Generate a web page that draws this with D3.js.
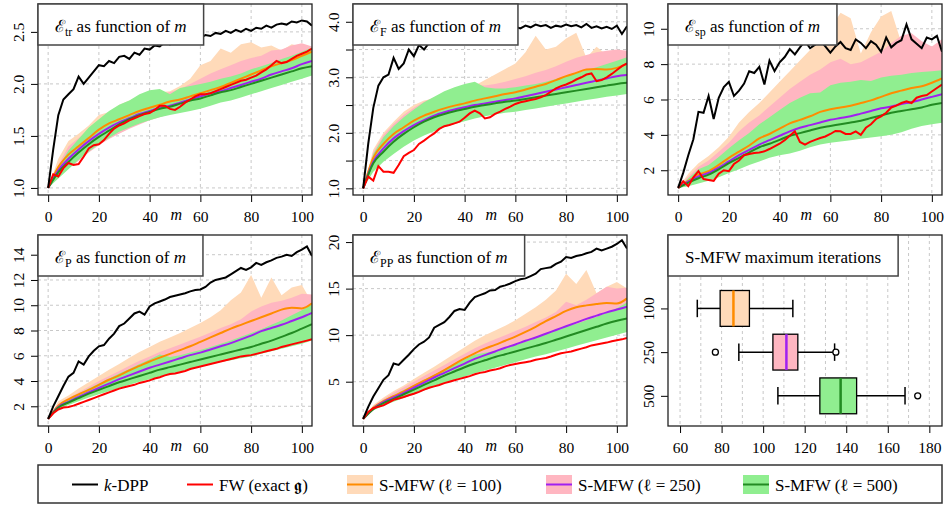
<!DOCTYPE html>
<html>
<head>
<meta charset="utf-8">
<script src="https://cdn.jsdelivr.net/npm/d3@7"></script>
<style>
  body { margin: 0; background: #fff; }
  svg text { font-family: "Liberation Serif", "DejaVu Serif", serif; }
</style>
</head>
<body>
<div id="chart"></div>
<script>
// x grids (m values)
const mFine = [0,2,4,6,8,10,12,14,16,18,20,22,24,26,28,30,32,34,36,38,40,42,44,46,48,50,52,54,56,58,60,62,64,66,68,70,72,74,76,78,80,82,84,86,88,90,92,94,96,98,100,102,104];
const mCoarse = [0,4,8,12,16,20,24,28,32,36,40,44,48,52,56,60,64,68,72,76,80,84,88,92,96,100,104];
const xTicks = [0, 20, 40, 60, 80, 100];

// ---- E_tr ----
const trDPP = [1.00,1.37,1.70,1.85,1.90,1.95,2.07,2.00,2.06,2.12,2.18,2.17,2.22,2.20,2.26,2.27,2.24,2.30,2.28,2.34,2.33,2.37,2.36,2.40,2.38,2.42,2.41,2.43,2.42,2.45,2.44,2.47,2.46,2.49,2.48,2.51,2.49,2.52,2.50,2.53,2.51,2.54,2.53,2.56,2.54,2.57,2.58,2.57,2.60,2.59,2.61,2.60,2.56];
const trFW = [1.00,1.13,1.11,1.19,1.24,1.22,1.23,1.30,1.38,1.41,1.42,1.46,1.52,1.57,1.60,1.62,1.65,1.67,1.69,1.71,1.72,1.75,1.79,1.79,1.76,1.75,1.78,1.82,1.85,1.88,1.90,1.90,1.91,1.93,1.95,1.97,1.99,2.01,2.03,2.04,2.06,2.08,2.11,2.14,2.18,2.22,2.20,2.21,2.24,2.27,2.29,2.31,2.34];
const trMFW100 = [1.00,1.20,1.32,1.40,1.48,1.56,1.62,1.66,1.70,1.74,1.77,1.80,1.83,1.85,1.88,1.91,1.94,1.97,2.01,2.05,2.09,2.13,2.17,2.20,2.23,2.27,2.31];
const trMFW250 = [1.00,1.17,1.28,1.37,1.45,1.52,1.58,1.63,1.67,1.71,1.74,1.77,1.79,1.82,1.85,1.88,1.91,1.93,1.96,1.99,2.02,2.05,2.09,2.12,2.15,2.19,2.22];
const trMFW500 = [1.00,1.15,1.25,1.34,1.42,1.49,1.55,1.61,1.66,1.70,1.73,1.76,1.78,1.81,1.84,1.86,1.89,1.92,1.94,1.97,2.00,2.03,2.06,2.09,2.12,2.15,2.17];
const trHi100 = [1.00,1.28,1.45,1.52,1.60,1.70,1.73,1.80,1.84,1.88,1.90,1.92,1.93,1.98,2.05,2.18,2.22,2.34,2.30,2.38,2.40,2.35,2.37,2.32,2.38,2.36,2.35];
const trLo100 = [1.00,1.12,1.22,1.30,1.38,1.45,1.51,1.56,1.61,1.65,1.68,1.71,1.74,1.76,1.79,1.81,1.84,1.87,1.90,1.93,1.96,1.99,2.02,2.05,2.08,2.12,2.15];
const trHi250 = [1.00,1.22,1.40,1.48,1.56,1.64,1.70,1.76,1.80,1.85,1.88,1.90,1.92,1.95,2.00,2.05,2.10,2.14,2.18,2.22,2.25,2.27,2.32,2.33,2.37,2.39,2.36];
const trLo250 = [1.00,1.10,1.19,1.26,1.34,1.41,1.47,1.52,1.57,1.61,1.65,1.68,1.71,1.74,1.77,1.79,1.82,1.85,1.88,1.91,1.94,1.97,2.00,2.03,2.06,2.09,2.12];
const trHi500 = [1.00,1.20,1.36,1.47,1.58,1.66,1.74,1.80,1.84,1.90,1.94,1.95,1.90,1.96,1.98,2.00,2.02,2.05,2.07,2.10,2.14,2.17,2.20,2.24,2.27,2.31,2.35];
const trLo500 = [1.00,1.09,1.18,1.27,1.35,1.42,1.48,1.54,1.58,1.62,1.65,1.68,1.70,1.72,1.74,1.76,1.79,1.82,1.84,1.87,1.90,1.93,1.96,1.99,2.02,2.05,2.08];

// ---- E_F ----
const fDPP = [1.00,1.80,2.45,2.85,3.00,3.05,3.35,3.15,3.25,3.50,3.38,3.58,3.50,3.62,3.66,3.70,3.73,3.76,3.78,3.80,3.82,3.84,3.85,3.86,3.87,3.88,3.88,3.89,3.87,3.86,3.91,3.88,3.93,3.90,3.95,3.92,3.94,3.89,3.93,3.91,3.95,3.92,3.94,3.90,3.96,3.89,3.92,3.88,3.91,3.87,3.93,3.78,3.92];
const fFW = [1.00,1.21,1.14,1.40,1.30,1.30,1.28,1.42,1.58,1.64,1.69,1.80,1.86,1.93,1.99,2.07,2.12,2.14,2.17,2.20,2.27,2.35,2.40,2.35,2.26,2.28,2.34,2.38,2.43,2.47,2.52,2.55,2.57,2.59,2.61,2.64,2.68,2.74,2.80,2.84,2.87,2.91,2.96,3.00,3.05,3.07,2.93,2.95,3.00,3.06,3.13,3.20,3.25];
const fMFW100 = [1.00,1.55,1.80,1.98,2.10,2.22,2.31,2.38,2.44,2.49,2.53,2.58,2.62,2.66,2.70,2.73,2.78,2.83,2.88,2.95,3.02,3.08,3.14,3.15,3.14,3.17,3.24];
const fMFW250 = [1.00,1.48,1.72,1.90,2.03,2.14,2.23,2.31,2.37,2.42,2.46,2.50,2.53,2.56,2.59,2.62,2.66,2.70,2.74,2.78,2.82,2.86,2.90,2.94,2.98,3.02,3.04];
const fMFW500 = [1.00,1.45,1.66,1.84,1.98,2.10,2.20,2.28,2.34,2.39,2.43,2.47,2.50,2.53,2.56,2.58,2.61,2.64,2.67,2.70,2.73,2.76,2.79,2.82,2.85,2.88,2.90];
const fHi100 = [1.00,1.70,2.00,2.20,2.38,2.50,2.58,2.62,2.70,2.75,2.80,2.85,2.95,3.05,3.15,3.25,3.45,3.75,3.50,3.55,3.70,3.80,3.35,3.55,3.40,3.35,3.32];
const fLo100 = [1.00,1.38,1.58,1.74,1.87,1.98,2.07,2.15,2.22,2.28,2.33,2.38,2.42,2.45,2.48,2.51,2.54,2.57,2.60,2.64,2.68,2.72,2.76,2.80,2.84,2.88,2.92];
const fHi250 = [1.00,1.65,1.96,2.16,2.32,2.45,2.56,2.64,2.72,2.78,2.83,2.87,2.85,2.88,2.92,2.97,3.02,3.08,3.13,3.20,3.28,3.35,3.40,3.45,3.48,3.50,3.48];
const fLo250 = [1.00,1.33,1.52,1.67,1.80,1.91,2.00,2.08,2.15,2.21,2.26,2.31,2.35,2.38,2.41,2.44,2.47,2.50,2.53,2.57,2.60,2.64,2.67,2.71,2.74,2.77,2.80];
const fHi500 = [1.00,1.62,1.92,2.12,2.28,2.42,2.55,2.65,2.75,2.82,2.88,2.92,2.82,2.80,2.80,2.82,2.85,2.88,2.92,2.97,3.02,3.07,3.13,3.18,3.24,3.30,3.36];
const fLo500 = [1.00,1.30,1.48,1.62,1.75,1.86,1.95,2.03,2.10,2.16,2.21,2.26,2.30,2.33,2.36,2.38,2.41,2.44,2.47,2.50,2.53,2.56,2.59,2.62,2.65,2.67,2.70];

// ---- E_sp ----
const spDPP = [1.00,1.85,2.85,3.75,5.30,5.25,6.20,4.90,6.10,6.70,7.00,6.20,6.50,6.90,7.60,7.50,7.85,6.85,8.20,7.60,8.10,8.40,8.85,8.55,8.95,9.30,8.90,9.10,9.35,9.00,8.65,9.00,9.25,8.90,8.80,9.40,9.20,8.90,9.30,9.10,8.70,9.50,8.95,9.20,9.35,10.25,9.40,9.15,8.90,9.50,9.40,9.60,8.70];
const spFW = [1.00,1.38,1.10,1.60,1.95,1.50,1.45,1.40,1.80,2.00,1.95,2.35,2.55,2.85,2.92,2.97,3.00,3.07,3.20,3.35,3.50,3.70,3.95,4.20,3.60,3.45,3.60,3.72,3.82,3.91,4.05,4.22,4.20,4.05,4.05,4.20,4.00,4.40,4.60,4.90,5.05,5.25,5.55,5.65,5.80,5.90,5.80,6.10,6.20,6.25,6.45,6.65,6.85];
const spMFW100 = [1.00,1.40,1.75,1.95,2.30,2.70,3.05,3.40,3.80,4.05,4.35,4.65,4.85,5.05,5.30,5.45,5.55,5.65,5.80,5.95,6.15,6.35,6.50,6.65,6.75,6.95,7.20];
const spMFW250 = [1.00,1.35,1.65,1.85,2.15,2.50,2.85,3.15,3.45,3.70,3.95,4.20,4.40,4.55,4.70,4.85,4.95,5.05,5.20,5.35,5.50,5.60,5.75,5.85,6.00,6.15,6.30];
const spMFW500 = [1.00,1.30,1.55,1.75,2.05,2.40,2.70,3.00,3.30,3.50,3.72,3.95,4.10,4.25,4.40,4.50,4.60,4.70,4.80,4.95,5.10,5.25,5.35,5.45,5.55,5.70,5.80];
const spHi100 = [1.00,1.80,2.40,2.80,3.30,3.90,4.70,5.30,5.80,6.40,7.00,7.60,8.20,8.80,9.40,10.00,10.90,10.60,8.60,9.80,10.70,11.00,9.20,8.90,8.70,8.80,8.70];
const spLo100 = [1.00,1.15,1.35,1.50,1.75,2.00,2.25,2.50,2.75,2.95,3.10,3.25,3.40,3.55,3.70,3.85,3.95,4.05,4.15,4.25,4.35,4.45,4.60,4.75,4.90,5.05,5.15];
const spHi250 = [1.00,1.65,2.20,2.55,3.05,3.55,4.20,4.70,5.10,5.60,6.10,6.60,7.00,7.40,7.70,8.10,8.30,8.00,8.10,8.40,8.70,9.20,9.60,9.75,9.30,9.00,9.40];
const spLo250 = [1.00,1.12,1.30,1.45,1.68,1.92,2.15,2.40,2.62,2.82,2.98,3.10,3.25,3.42,3.55,3.68,3.76,3.85,3.93,4.02,4.10,4.20,4.35,4.50,4.65,4.75,4.85];
const spHi500 = [1.00,1.55,2.05,2.30,2.75,3.25,3.70,4.10,4.60,5.00,5.40,5.80,6.10,6.35,6.40,6.80,6.95,7.00,7.10,7.05,7.25,7.35,7.40,7.50,7.55,7.60,7.65];
const spLo500 = [1.00,1.10,1.25,1.40,1.60,1.85,2.05,2.30,2.50,2.70,2.85,2.95,3.10,3.30,3.45,3.55,3.62,3.70,3.78,3.85,3.92,4.00,4.15,4.35,4.50,4.60,4.68];

// ---- E_P ----
const pDPP = [1.00,2.00,2.80,3.60,4.35,4.65,5.55,5.30,5.95,6.40,6.75,6.85,7.35,7.75,8.35,8.55,8.95,9.35,9.50,9.25,9.90,10.15,10.30,10.45,10.65,10.75,10.85,10.95,11.10,11.20,11.25,11.45,11.80,12.00,12.10,12.20,12.45,12.70,12.95,12.80,13.00,13.35,13.20,13.40,13.55,13.75,13.85,14.00,13.90,14.20,14.40,14.65,13.90];
const pFW = [1.00,1.45,1.75,1.90,1.95,2.05,2.20,2.35,2.50,2.65,2.80,2.95,3.10,3.25,3.40,3.50,3.60,3.70,3.85,3.95,4.05,4.20,4.30,4.45,4.55,4.60,4.70,4.80,4.95,5.05,5.15,5.25,5.35,5.45,5.55,5.65,5.75,5.85,5.95,6.00,6.05,6.15,6.25,6.35,6.45,6.55,6.70,6.80,6.90,7.00,7.10,7.20,7.30];
const pMFW100 = [1.00,2.05,2.55,2.95,3.30,3.70,4.10,4.45,4.85,5.20,5.55,5.85,6.15,6.45,6.75,7.10,7.45,7.80,8.15,8.45,8.75,9.05,9.35,9.65,9.80,9.75,10.15];
const pMFW250 = [1.00,1.95,2.35,2.75,3.10,3.45,3.80,4.15,4.45,4.75,5.05,5.30,5.55,5.80,6.05,6.25,6.50,6.75,7.00,7.30,7.60,7.95,8.20,8.45,8.75,9.05,9.40];
const pMFW500 = [1.00,1.90,2.30,2.65,3.00,3.30,3.60,3.90,4.15,4.40,4.65,4.90,5.10,5.30,5.50,5.70,5.90,6.10,6.30,6.50,6.70,6.95,7.20,7.50,7.80,8.15,8.50];
const pHi100 = [1.00,2.40,2.85,3.40,3.90,4.40,4.90,5.35,5.85,6.30,6.70,7.10,7.45,7.80,8.20,8.60,9.05,9.60,10.40,11.00,12.40,10.60,12.20,10.80,11.40,11.60,10.20];
const pLo100 = [1.00,1.85,2.25,2.60,2.95,3.25,3.55,3.85,4.10,4.40,4.65,4.90,5.15,5.35,5.60,5.85,6.10,6.35,6.60,6.85,7.10,7.40,7.65,7.90,8.15,8.40,8.65];
const pHi250 = [1.00,2.20,2.65,3.10,3.55,4.00,4.40,4.80,5.20,5.60,5.95,6.30,6.60,6.90,7.20,7.50,7.85,8.20,8.50,8.90,9.50,9.90,10.20,10.35,10.60,10.90,10.85];
const pLo250 = [1.00,1.80,2.15,2.48,2.80,3.08,3.35,3.62,3.88,4.13,4.35,4.58,4.80,5.00,5.20,5.40,5.60,5.80,6.00,6.20,6.40,6.60,6.80,7.00,7.25,7.50,7.75];
const pHi500 = [1.00,2.10,2.55,3.00,3.40,3.80,4.20,4.60,4.95,5.35,5.70,6.10,5.90,6.05,6.25,6.45,6.70,6.95,7.20,7.50,7.80,8.10,8.45,8.80,9.20,9.60,10.10];
const pLo500 = [1.00,1.75,2.10,2.40,2.70,2.95,3.20,3.45,3.70,3.95,4.15,4.35,4.55,4.75,4.95,5.15,5.30,5.50,5.65,5.80,5.95,6.15,6.35,6.55,6.75,6.95,7.20];

// ---- E_PP ----
const ppDPP = [1.00,2.30,3.40,4.30,5.20,5.70,6.95,6.80,7.35,7.90,8.50,9.00,9.30,9.75,10.80,11.10,11.40,11.95,12.60,12.80,12.70,13.50,14.10,14.30,14.50,14.80,14.85,15.20,15.35,15.55,15.80,16.00,16.10,16.35,16.60,17.10,17.20,17.30,17.65,17.90,18.40,18.30,18.50,18.60,18.80,18.95,19.30,19.10,19.30,19.50,19.80,20.20,19.30];
const ppFW = [1.00,1.75,2.15,2.30,2.45,2.75,3.05,3.20,3.35,3.55,3.70,3.90,4.15,4.35,4.50,4.65,4.85,5.00,5.15,5.30,5.45,5.60,5.80,5.95,6.05,6.20,6.30,6.45,6.65,6.80,6.90,7.00,7.10,7.20,7.35,7.45,7.55,7.70,7.90,8.05,8.15,8.25,8.40,8.55,8.70,8.90,9.00,9.10,9.20,9.35,9.45,9.55,9.70];
const ppMFW100 = [1.00,2.20,2.90,3.45,3.95,4.55,5.10,5.65,6.25,6.90,7.50,8.05,8.55,8.95,9.40,9.85,10.35,10.90,11.50,12.05,12.60,13.00,13.20,13.35,13.45,13.40,13.95];
const ppMFW250 = [1.00,2.10,2.80,3.30,3.80,4.35,4.90,5.45,5.95,6.45,6.95,7.45,7.85,8.25,8.65,9.00,9.40,9.75,10.15,10.55,10.95,11.35,11.75,12.10,12.45,12.75,13.05];
const ppMFW500 = [1.00,2.05,2.70,3.15,3.65,4.15,4.65,5.15,5.65,6.10,6.55,6.95,7.30,7.65,7.95,8.25,8.55,8.85,9.15,9.50,9.85,10.20,10.55,10.90,11.25,11.55,11.80];
const ppHi100 = [1.00,2.50,3.30,4.00,4.60,5.30,5.95,6.60,7.30,8.00,8.70,9.40,10.00,10.50,11.00,11.60,12.30,13.00,13.80,14.80,16.60,15.50,17.00,14.50,15.20,15.70,15.00];
const ppLo100 = [1.00,2.00,2.60,3.05,3.50,3.95,4.40,4.85,5.30,5.70,6.10,6.50,6.85,7.20,7.55,7.90,8.25,8.60,8.95,9.30,9.65,10.00,10.35,10.70,11.05,11.40,11.75];
const ppHi250 = [1.00,2.40,3.15,3.80,4.40,5.00,5.60,6.20,6.80,7.40,8.00,8.60,9.10,9.55,10.00,10.45,10.90,11.40,11.90,12.50,13.60,13.20,13.80,14.50,15.20,15.00,15.10];
const ppLo250 = [1.00,1.95,2.52,2.95,3.38,3.80,4.22,4.65,5.05,5.45,5.82,6.20,6.52,6.85,7.17,7.50,7.82,8.15,8.45,8.78,9.10,9.42,9.75,10.08,10.40,10.72,11.05];
const ppHi500 = [1.00,2.30,3.00,3.55,4.10,4.65,5.20,5.75,6.30,6.85,7.40,7.90,8.10,8.30,8.60,8.95,9.30,9.70,10.10,10.50,11.00,11.20,11.60,11.95,12.40,12.90,13.50];
const ppLo500 = [1.00,1.90,2.45,2.85,3.25,3.65,4.05,4.45,4.85,5.20,5.55,5.90,6.20,6.50,6.80,7.10,7.40,7.70,7.95,8.25,8.55,8.85,9.15,9.45,9.75,10.05,10.35];

// ---- boxplot: S-MFW maximum iterations ----
const boxLabels = ["100", "250", "500"];
const boxQ1 = [79.3, 104.7, 127.3];
const boxMed = [85.7, 111.2, 137.3];
const boxQ3 = [93.4, 116.7, 145.0];
const whiskLo = [68.3, 88.3, 107.1];
const whiskHi = [114.3, 134.4, 168.3];
const boxOut = [[], [77.0, 135.0], [174.4]];
const boxTicks = [60, 80, 100, 120, 140, 160, 180];
const boxGrid = [60, 70, 80, 90, 100, 110, 120, 130, 140, 150, 160, 170, 180];

// legend
const legendText = ["k-DPP", "FW (exact 𝖌)", "S-MFW (ℓ = 100)", "S-MFW (ℓ = 250)", "S-MFW (ℓ = 500)"];

const bandFill = ["#FFDAB9", "#FFB6C1", "#90EE90"];
const lineCol = ["#FF8C00", "#A020F0", "#228B22"];
const gridCol = "#c8c8c8";

const panels = [
  { sub: "tr", col: 0, row: 0, yDomain: [0.932, 2.768], yTicks: [1, 1.5, 2, 2.5], labelEvery: 0.5, fmt: d3.format(".1f"),
    dpp: trDPP, fw: trFW, mfw: [trMFW100, trMFW250, trMFW500], hi: [trHi100, trHi250, trHi500], lo: [trLo100, trLo250, trLo500] },
  { sub: "F", col: 1, row: 0, yDomain: [0.88, 4.32], yTicks: [1, 1.5, 2, 2.5, 3, 3.5, 4], labelEvery: 1, fmt: d3.format(".1f"),
    dpp: fDPP, fw: fFW, mfw: [fMFW100, fMFW250, fMFW500], hi: [fHi100, fHi250, fHi500], lo: [fLo100, fLo250, fLo500] },
  { sub: "sp", col: 2, row: 0, yDomain: [0.6, 11.4], yTicks: [2, 4, 6, 8, 10], labelEvery: 2, fmt: d3.format("d"),
    dpp: spDPP, fw: spFW, mfw: [spMFW100, spMFW250, spMFW500], hi: [spHi100, spHi250, spHi500], lo: [spLo100, spLo250, spLo500] },
  { sub: "P", col: 0, row: 1, yDomain: [0.44, 15.56], yTicks: [2, 4, 6, 8, 10, 12, 14], labelEvery: 2, fmt: d3.format("d"),
    dpp: pDPP, fw: pFW, mfw: [pMFW100, pMFW250, pMFW500], hi: [pHi100, pHi250, pHi500], lo: [pLo100, pLo250, pLo500] },
  { sub: "PP", col: 1, row: 1, yDomain: [0.24, 20.76], yTicks: [5, 10, 15, 20], labelEvery: 5, fmt: d3.format("d"),
    dpp: ppDPP, fw: ppFW, mfw: [ppMFW100, ppMFW250, ppMFW500], hi: [ppHi100, ppHi250, ppHi500], lo: [ppLo100, ppLo250, ppLo500] }
];

const W = 946, H = 507;
const cols = [38, 353, 668];
const rows = [4, 235];
const pw = 274, ph = 191;

const svg = d3.select("#chart").append("svg")
  .attr("width", W).attr("height", H);

function styleAxis(ax) {
  ax.attr("font-size", 15.5).attr("font-family", null);
  ax.select(".domain").remove();
  ax.selectAll("line").attr("stroke", "#000");
  ax.selectAll("text").attr("fill", "#000");
}

function rotateY(ax) {
  ax.selectAll("text")
    .attr("x", 0).attr("dy", 0)
    .attr("text-anchor", "middle")
    .attr("transform", "translate(-14,0) rotate(-90)");
}

function titleBox(g, build) {
  const box = g.append("rect").attr("x", 0).attr("y", 0).attr("height", 41)
    .attr("fill", "#fff").attr("stroke", "#444").attr("stroke-width", 1.5);
  const t = g.append("text").attr("x", 17).attr("y", 28).attr("font-size", 17).attr("fill", "#000");
  build(t);
  const w = t.node().getBBox().width;
  box.attr("width", w + 34);
}

function drawLinePanel(p, idx) {
  const g = svg.append("g").attr("transform", `translate(${cols[p.col]},${rows[p.row]})`);
  const x = d3.scaleLinear().domain([-4, 104]).range([0, pw]);
  const y = d3.scaleLinear().domain(p.yDomain).range([ph, 0]);

  g.append("clipPath").attr("id", "clip" + idx)
    .append("rect").attr("width", pw).attr("height", ph);

  // dashed grid
  g.selectAll(".gx").data(xTicks).enter().append("line")
    .attr("x1", d => x(d)).attr("x2", d => x(d)).attr("y1", 0).attr("y2", ph)
    .attr("stroke", gridCol).attr("stroke-dasharray", "3,3");
  g.selectAll(".gy").data(p.yTicks).enter().append("line")
    .attr("x1", 0).attr("x2", pw).attr("y1", d => y(d)).attr("y2", d => y(d))
    .attr("stroke", gridCol).attr("stroke-dasharray", "3,3");

  const plot = g.append("g").attr("clip-path", `url(#clip${idx})`);

  // quantile bands: 100, 250, 500
  p.hi.forEach((hi, k) => {
    const lo = p.lo[k];
    const area = d3.area()
      .x((d, j) => x(mCoarse[j]))
      .y0((d, j) => y(lo[j]))
      .y1(d => y(d));
    plot.append("path").datum(hi).attr("d", area).attr("fill", bandFill[k]);
  });

  const smooth = d3.line().x((d, j) => x(mCoarse[j])).y(d => y(d)).curve(d3.curveMonotoneX);
  const fine = d3.line().x((d, j) => x(mFine[j])).y(d => y(d));

  p.mfw.forEach((s, k) => {
    plot.append("path").datum(s).attr("d", smooth)
      .attr("fill", "none").attr("stroke", lineCol[k]).attr("stroke-width", 2);
  });
  plot.append("path").datum(p.fw).attr("d", fine)
    .attr("fill", "none").attr("stroke", "#FF0000").attr("stroke-width", 2);
  plot.append("path").datum(p.dpp).attr("d", fine)
    .attr("fill", "none").attr("stroke", "#000").attr("stroke-width", 2);

  // axes
  const xa = g.append("g").attr("transform", `translate(0,${ph})`)
    .call(d3.axisBottom(x).tickValues(xTicks).tickSize(7).tickPadding(9).tickFormat(d3.format("d")));
  styleAxis(xa);
  g.append("text").attr("x", x(50.5)).attr("y", ph + 25)
    .attr("text-anchor", "middle").attr("font-size", 16).attr("font-style", "italic").text("m");

  const ya = g.append("g")
    .call(d3.axisLeft(y).tickValues(p.yTicks).tickSize(7)
      .tickFormat(d => (Math.abs(d / p.labelEvery - Math.round(d / p.labelEvery)) < 1e-6) ? p.fmt(d) : ""));
  styleAxis(ya);
  rotateY(ya);

  g.append("rect").attr("width", pw).attr("height", ph)
    .attr("fill", "none").attr("stroke", "#222").attr("stroke-width", 1.3);

  titleBox(g, t => {
    t.append("tspan").text("ℰ");
    t.append("tspan").attr("font-size", 12).attr("dy", 4).text(p.sub);
    t.append("tspan").attr("dy", -4).text(" as function of ");
    t.append("tspan").attr("font-style", "italic").text("m");
  });
}

function drawBoxPanel() {
  const g = svg.append("g").attr("transform", `translate(${cols[2]},${rows[1]})`);
  const x = d3.scaleLinear().domain([54.2, 186.1]).range([0, pw]);
  const y = d3.scaleLinear().domain([-0.68, 3.69]).range([0, ph]);
  const half = 0.41, cap = 0.2;

  g.selectAll(".gx").data(boxGrid).enter().append("line")
    .attr("x1", d => x(d)).attr("x2", d => x(d)).attr("y1", 0).attr("y2", ph)
    .attr("stroke", gridCol).attr("stroke-dasharray", "3,3");

  boxLabels.forEach((lab, i) => {
    const c = i + 1;
    // whiskers
    g.append("line").attr("x1", x(whiskLo[i])).attr("x2", x(boxQ1[i]))
      .attr("y1", y(c)).attr("y2", y(c)).attr("stroke", "#000").attr("stroke-width", 1.5);
    g.append("line").attr("x1", x(boxQ3[i])).attr("x2", x(whiskHi[i]))
      .attr("y1", y(c)).attr("y2", y(c)).attr("stroke", "#000").attr("stroke-width", 1.5);
    [whiskLo[i], whiskHi[i]].forEach(v => {
      g.append("line").attr("x1", x(v)).attr("x2", x(v))
        .attr("y1", y(c - cap)).attr("y2", y(c + cap)).attr("stroke", "#000").attr("stroke-width", 1.5);
    });
    g.append("rect").attr("x", x(boxQ1[i])).attr("width", x(boxQ3[i]) - x(boxQ1[i]))
      .attr("y", y(c - half)).attr("height", y(c + half) - y(c - half))
      .attr("fill", bandFill[i]).attr("stroke", "#000").attr("stroke-width", 1.3);
    g.append("line").attr("x1", x(boxMed[i])).attr("x2", x(boxMed[i]))
      .attr("y1", y(c - half)).attr("y2", y(c + half))
      .attr("stroke", lineCol[i]).attr("stroke-width", 2.5);
    boxOut[i].forEach(v => {
      g.append("circle").attr("cx", x(v)).attr("cy", y(c)).attr("r", 3)
        .attr("fill", "#fff").attr("stroke", "#000").attr("stroke-width", 1.3);
    });
  });

  const xa = g.append("g").attr("transform", `translate(0,${ph})`)
    .call(d3.axisBottom(x).tickValues(boxTicks).tickSize(7).tickPadding(9).tickFormat(d3.format("d")));
  styleAxis(xa);

  const ya = g.append("g")
    .call(d3.axisLeft(y).tickValues([1, 2, 3]).tickSize(7).tickFormat(d => boxLabels[d - 1]));
  styleAxis(ya);
  rotateY(ya);

  g.append("rect").attr("width", pw).attr("height", ph)
    .attr("fill", "none").attr("stroke", "#222").attr("stroke-width", 1.3);

  titleBox(g, t => t.text("S-MFW maximum iterations"));
}

panels.forEach(drawLinePanel);
drawBoxPanel();

// legend
const lg = svg.append("g");
lg.append("rect").attr("x", 38).attr("y", 465).attr("width", 904).attr("height", 38)
  .attr("fill", "#fff").attr("stroke", "#333").attr("stroke-width", 1.5);
const itemX = [72, 187, 347, 546, 743];
const ly = 484.5;
legendText.forEach((txt, i) => {
  const x0 = itemX[i];
  if (i >= 2) {
    lg.append("rect").attr("x", x0).attr("y", ly - 9.5).attr("width", 26).attr("height", 19)
      .attr("fill", bandFill[i - 2]);
  }
  const col = i === 0 ? "#000" : i === 1 ? "#FF0000" : lineCol[i - 2];
  lg.append("line").attr("x1", x0).attr("x2", x0 + 26).attr("y1", ly).attr("y2", ly)
    .attr("stroke", col).attr("stroke-width", 2);
  const t = lg.append("text").attr("x", x0 + 32).attr("y", ly + 6).attr("font-size", 17);
  if (i === 0) {
    t.append("tspan").attr("font-style", "italic").text(txt.slice(0, 1));
    t.append("tspan").text(txt.slice(1));
  } else {
    t.text(txt);
  }
});
</script>
</body>
</html>
